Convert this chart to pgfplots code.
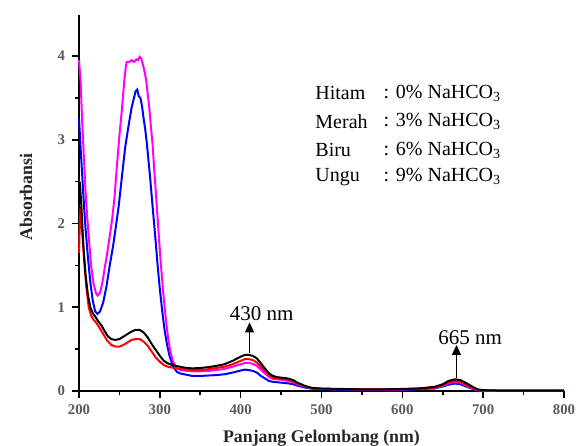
\documentclass[border=0pt]{standalone}
\usepackage{pgfplots}
\pgfplotsset{compat=1.18}
\usepackage{fontspec}
\setmainfont{Liberation Serif}
\usetikzlibrary{arrows.meta}
\definecolor{ticklab}{RGB}{90,90,90}
\definecolor{magen}{RGB}{255,0,255}
\begin{document}
\begin{tikzpicture}
\path[use as bounding box] (-39.5pt,-27pt) rectangle (251pt,195.5pt);
\begin{axis}[
  scale only axis, width=242.5pt, height=188pt,
  xmin=200, xmax=800, ymin=0, ymax=4.49,
  axis lines=left, axis line style={-, line width=1pt},
  xtick={200,300,...,800}, ytick={0,1,2,3,4},
  minor xtick={250,350,...,750}, minor ytick={0.5,1.5,2.5,3.5},
  tick align=outside, major tick length=3.5pt, minor tick length=2.2pt,
  tick style={line width=0.8pt, black},
  /pgf/number format/assume math mode=true,
  tick label style={font=\fontsize{7.4}{8}\selectfont\bfseries, color=ticklab},
  xlabel={Panjang Gelombang (nm)},
  ylabel={Absorbansi},
  xlabel style={at={(axis description cs:0.5,0)}, anchor=base, yshift=-25.5pt, font=\fontsize{8.9}{10}\selectfont\bfseries, color=black!85},
  ylabel style={at={(axis description cs:-0.1093,0.516)}, anchor=center, font=\fontsize{8.9}{10}\selectfont\bfseries, color=black!85},
  every axis plot/.append style={line width=1pt},
  clip=false,
]
% Biru (6%)
\addplot[blue] coordinates {(200,3.25)(202,2.9)(205,2.4)(208,1.95)(211,1.6)(214,1.3)(217,1.08)(220,0.95)(223,0.92)(226,0.95)(230,1.06)(234,1.25)(238,1.5)(242,1.72)(245,1.92)(249,2.2)(253,2.55)(257,2.9)(261,3.15)(265,3.38)(268,3.5)(270,3.58)(272,3.6)(274,3.52)(276,3.5)(278,3.4)(280,3.25)(282,3.12)(284,2.95)(286,2.75)(288,2.55)(290,2.32)(292,2.1)(294,1.88)(296,1.65)(298,1.42)(300,1.22)(303,0.95)(306,0.72)(309,0.55)(312,0.42)(315,0.33)(318,0.27)(321,0.23)(325,0.21)(330,0.2)(340,0.18)(350,0.18)(360,0.185)(370,0.19)(380,0.2)(390,0.22)(400,0.245)(405,0.255)(410,0.25)(415,0.24)(420,0.22)(425,0.18)(430,0.15)(435,0.12)(440,0.11)(450,0.1)(460,0.09)(465,0.08)(470,0.065)(480,0.04)(490,0.025)(500,0.02)(550,0.015)(600,0.015)(640,0.03)(650,0.055)(657,0.075)(665,0.09)(672,0.08)(680,0.05)(687,0.025)(693,0.01)(700,0.005)(800,0.005)};
% Ungu (9%)
\addplot[magen] coordinates {(200,3.95)(202,3.7)(204,3.2)(206,2.8)(208,2.4)(210,2.1)(212,1.85)(215,1.5)(218,1.28)(221,1.17)(223,1.14)(226,1.17)(229,1.3)(232,1.48)(235,1.65)(238,1.85)(241,2.05)(244,2.32)(247,2.7)(250,3.05)(253,3.35)(256,3.7)(258,3.88)(259,3.93)(262,3.93)(265,3.95)(268,3.93)(271,3.96)(273,3.95)(275,3.99)(277,3.97)(279,3.9)(281,3.82)(283,3.72)(285,3.55)(287,3.38)(289,3.15)(291,2.95)(293,2.65)(295,2.38)(297,2.1)(299,1.82)(301,1.55)(304,1.2)(307,0.9)(310,0.65)(313,0.47)(316,0.36)(319,0.3)(322,0.27)(326,0.25)(330,0.245)(340,0.235)(350,0.235)(360,0.24)(370,0.25)(380,0.265)(390,0.29)(400,0.32)(405,0.335)(410,0.335)(415,0.325)(420,0.3)(425,0.255)(430,0.21)(435,0.17)(440,0.145)(450,0.135)(460,0.12)(465,0.105)(470,0.08)(480,0.05)(490,0.03)(500,0.025)(550,0.02)(600,0.02)(640,0.035)(650,0.065)(657,0.09)(665,0.11)(672,0.10)(680,0.06)(687,0.03)(693,0.01)(700,0.005)(800,0.005)};
% Merah (3%)
\addplot[red] coordinates {(200,1.65)(201,2.0)(202,2.2)(204,1.9)(206,1.6)(209,1.25)(212,1.0)(215,0.9)(218,0.85)(221,0.82)(225,0.76)(230,0.68)(235,0.6)(240,0.55)(245,0.53)(250,0.53)(255,0.55)(260,0.58)(265,0.61)(270,0.62)(275,0.62)(280,0.59)(285,0.54)(290,0.47)(295,0.40)(300,0.35)(305,0.31)(310,0.29)(315,0.28)(320,0.27)(330,0.26)(340,0.25)(350,0.25)(360,0.26)(370,0.275)(380,0.29)(390,0.32)(400,0.36)(405,0.38)(410,0.38)(415,0.37)(420,0.34)(425,0.29)(430,0.24)(435,0.19)(440,0.16)(445,0.15)(450,0.145)(455,0.14)(460,0.13)(465,0.115)(470,0.09)(475,0.07)(480,0.05)(485,0.04)(490,0.03)(500,0.025)(550,0.02)(600,0.02)(640,0.04)(650,0.07)(657,0.10)(665,0.12)(672,0.11)(680,0.07)(687,0.04)(693,0.015)(700,0.005)(800,0.005)};
% Hitam (0%)
\addplot[black] coordinates {(200,2.3)(201,2.5)(203,2.2)(205,1.8)(208,1.4)(211,1.15)(214,1.0)(217,0.93)(220,0.89)(224,0.83)(228,0.78)(232,0.71)(236,0.65)(240,0.62)(245,0.61)(250,0.62)(255,0.65)(260,0.68)(265,0.71)(270,0.73)(275,0.73)(280,0.70)(285,0.64)(290,0.56)(295,0.49)(300,0.42)(305,0.36)(310,0.33)(315,0.31)(320,0.30)(330,0.28)(340,0.27)(350,0.275)(360,0.285)(370,0.30)(380,0.32)(390,0.36)(400,0.41)(405,0.43)(410,0.43)(415,0.42)(420,0.39)(425,0.33)(430,0.27)(435,0.21)(440,0.18)(445,0.165)(450,0.16)(455,0.155)(460,0.145)(465,0.13)(470,0.10)(475,0.08)(480,0.06)(485,0.045)(490,0.035)(500,0.03)(520,0.025)(550,0.02)(580,0.02)(600,0.025)(620,0.03)(640,0.05)(650,0.08)(657,0.12)(665,0.14)(672,0.13)(680,0.09)(687,0.05)(693,0.02)(700,0.01)(720,0.005)(800,0.005)};
% annotations
\draw[-{Triangle[width=4.5pt,length=5pt]}, line width=0.6pt] (axis cs:411,0.45) -- (axis cs:411,0.82);
\draw[-{Triangle[width=4.5pt,length=5pt]}, line width=0.6pt] (axis cs:667,0.15) -- (axis cs:667,0.55);
\node[font=\fontsize{10.5}{12}\selectfont] at (axis cs:426,0.92) {430 nm};
\node[font=\fontsize{10.5}{12}\selectfont] at (axis cs:684,0.64) {665 nm};
\begin{scope}[every node/.style={font=\fontsize{10}{12}\selectfont, anchor=west, inner sep=0pt}]
\node at (axis cs:492,3.555) {Hitam};
\node at (axis cs:576.5,3.555) {: 0\% NaHCO\textsubscript{3}};
\node at (axis cs:492,3.216) {Merah};
\node at (axis cs:576.5,3.216) {: 3\% NaHCO\textsubscript{3}};
\node at (axis cs:492,2.878) {Biru};
\node at (axis cs:576.5,2.878) {: 6\% NaHCO\textsubscript{3}};
\node at (axis cs:492,2.559) {Ungu};
\node at (axis cs:576.5,2.559) {: 9\% NaHCO\textsubscript{3}};
\end{scope}
\end{axis}
\end{tikzpicture}
\end{document}
